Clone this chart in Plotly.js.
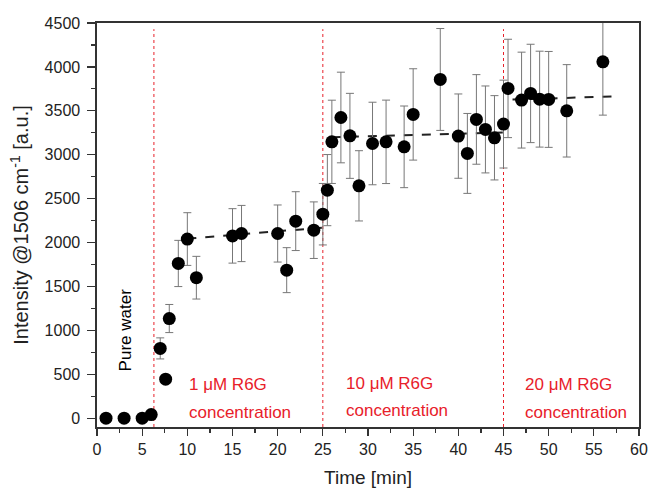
<!DOCTYPE html>
<html>
<head>
<meta charset="utf-8">
<script src="https://cdn.plot.ly/plotly-3.0.1.min.js"></script>
<style>html,body{margin:0;padding:0;background:#fff;}#chart{width:650px;height:490px;}</style>
</head>
<body>
<div id="chart"></div>
<script>
// Measured data
const time = [1,3,5,6,7,7.6,8,9,10,11,15,16,20,21,22,24,25,25.5,26,27,28,29,30.5,32,34,35,38,40,41,42,43,44,45,45.5,47,48,49,50,52,56];
const intensity = [0,0,0,42,795,445,1135,1762,2040,1600,2076,2103,2103,1686,2244,2141,2323,2597,3147,3424,3215,2646,3128,3147,3090,3459,3857,3212,3015,3402,3288,3193,3349,3755,3622,3698,3633,3630,3500,4058];
const errorBar = [0,0,0,20,120,40,160,263,300,243,310,320,325,256,335,322,350,405,474,516,484,400,470,475,465,520,580,480,455,510,495,480,500,560,546,560,546,546,526,607];

// Linear fits (dashed)
const fit1Time = [10,25];   const fit1Int = [2045,2170];
const fit2Time = [26,45.5]; const fit2Int = [3200,3255];
const fit3Time = [46,57.5]; const fit3Int = [3628,3665];

// Concentration switch times
const switchTimes = [6.3,25,45];
const xTicks = [0,5,10,15,20,25,30,35,40,45,50,55,60];
const yTicks = [0,500,1000,1500,2000,2500,3000,3500,4000,4500];

const font = "Liberation Sans, Arial, sans-serif";
const red = "#e8202a";

const fitStyle = {color:"#222", width:2, dash:"dash"};
const traces = [
  {x:fit1Time, y:fit1Int, mode:"lines", line:fitStyle, hoverinfo:"skip"},
  {x:fit2Time, y:fit2Int, mode:"lines", line:fitStyle, hoverinfo:"skip"},
  {x:fit3Time, y:fit3Int, mode:"lines", line:fitStyle, hoverinfo:"skip"},
  {x:time, y:intensity, mode:"markers", type:"scatter",
   marker:{color:"#000", size:13},
   error_y:{type:"data", array:errorBar, visible:true, color:"#777", thickness:1, width:4}}
];

const shapes = switchTimes.map(t => ({type:"line", xref:"x", yref:"y", x0:t, x1:t, y0:-100, y1:4430,
  line:{color:red, width:1, dash:"dot"}, layer:"below"}));

const ann = (text, x, y, color, extra) => Object.assign({text:text, x:x, y:y, xref:"x", yref:"y",
  showarrow:false, xanchor:"left", yanchor:"middle", font:{family:font, size:17, color:color}}, extra||{});

const annotations = [
  ann("Pure water", 3.1, 1000, "#000", {xanchor:"center", textangle:-90}),
  ann("1 μM R6G", 10.0, 387, red),
  ann("concentration", 10.0, 68, red),
  ann("10 μM R6G", 27.3, 399, red),
  ann("concentration", 27.3, 91, red),
  ann("20 μM R6G", 47.2, 387, red),
  ann("concentration", 47.2, 68, red)
];

const layout = {
  width:650, height:490,
  margin:{l:97, r:11, t:23, b:63},
  paper_bgcolor:"#fff", plot_bgcolor:"#fff",
  showlegend:false,
  font:{family:font, size:16, color:"#222"},
  xaxis:{range:[0,60], tickvals:xTicks, ticks:"outside", ticklen:7, tickwidth:1.2, tickcolor:"#333",
    minor:{dtick:2.5, ticks:"outside", ticklen:4, tickcolor:"#333"},
    showline:true, linecolor:"#333", linewidth:1.6, mirror:true, showgrid:false, zeroline:false,
    tickfont:{family:font, size:16, color:"#222"},
    title:{text:"Time [min]", font:{family:font, size:19, color:"#222"}, standoff:14}},
  yaxis:{range:[-100,4500], tickvals:yTicks, ticks:"outside", ticklen:8, tickwidth:1.2, tickcolor:"#333",
    ticklabelstandoff:4,
    minor:{dtick:250, ticks:"outside", ticklen:4, tickcolor:"#333"},
    showline:true, linecolor:"#333", linewidth:1.6, mirror:true, showgrid:false, zeroline:false,
    tickfont:{family:font, size:16, color:"#222"},
    title:{text:"Intensity @1506 cm<sup>-1</sup> [a.u.]", font:{family:font, size:20, color:"#222"}, standoff:10}},
  shapes:shapes,
  annotations:annotations
};

Plotly.newPlot("chart", traces, layout, {displayModeBar:false, staticPlot:true});
</script>
</body>
</html>
